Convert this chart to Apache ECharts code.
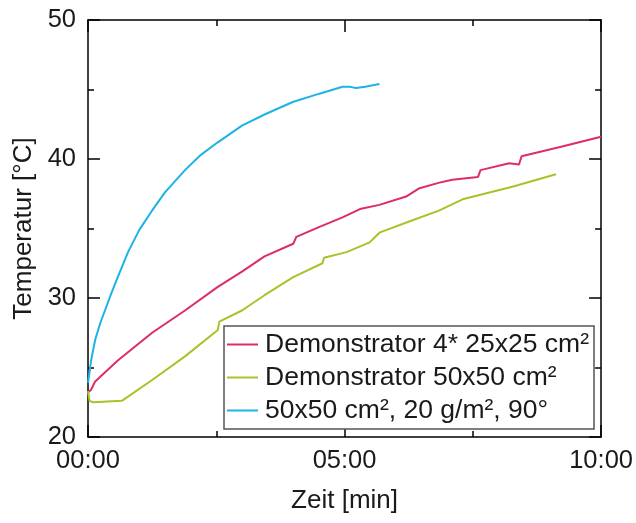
<!DOCTYPE html>
<html>
<head>
<meta charset="utf-8">
<script src="https://cdn.jsdelivr.net/npm/echarts@6/dist/echarts.min.js"></script>
<style>
  html, body { margin: 0; padding: 0; background: #fff; }
  #main { width: 636px; height: 523px; }
</style>
</head>
<body>
<div id="main"></div>
<script>
// series names
var seriesNames = ['Demonstrator 4* 25x25 cm²', 'Demonstrator 50x50 cm²', '50x50 cm², 20 g/m², 90°'];
var seriesColors = ['#dd2d62', '#a6c42a', '#1db3e4'];

// time in minutes, temperature in °C
var redTime = [0, 0.06, 0.14, 0.58, 1.25, 1.89, 2.53, 3.0, 3.44, 4.0, 4.06, 4.5, 4.96, 5.3, 5.68, 6.2, 6.46, 6.85, 7.1, 7.6, 7.65, 8.21, 8.4, 8.45, 9.24, 10.0];
var redTemp = [23.2, 23.4, 24.0, 25.5, 27.5, 29.1, 30.8, 31.9, 33.0, 33.9, 34.4, 35.1, 35.8, 36.4, 36.7, 37.3, 37.9, 38.3, 38.5, 38.7, 39.2, 39.7, 39.6, 40.2, 40.9, 41.6];

var greenTime = [0, 0.03, 0.1, 0.66, 1.25, 1.89, 2.53, 2.56, 3.0, 3.44, 4.0, 4.57, 4.6, 5.04, 5.49, 5.68, 6.26, 6.85, 7.3, 8.27, 9.12];
var greenTemp = [23.3, 22.6, 22.5, 22.6, 24.1, 25.8, 27.7, 28.3, 29.1, 30.2, 31.5, 32.5, 32.9, 33.3, 34.0, 34.7, 35.5, 36.3, 37.1, 38.0, 38.9];

var blueTime = [0, 0.02, 0.06, 0.14, 0.24, 0.33, 0.45, 0.58, 0.78, 1.0, 1.25, 1.5, 1.89, 2.2, 2.53, 3.0, 3.44, 3.99, 4.51, 4.96, 5.1, 5.23, 5.4, 5.68];
var blueTemp = [23.9, 24.4, 25.5, 27.0, 28.2, 29.1, 30.3, 31.5, 33.3, 34.9, 36.3, 37.6, 39.2, 40.3, 41.2, 42.4, 43.2, 44.1, 44.7, 45.2, 45.2, 45.1, 45.2, 45.4];

function zip(xs, ys) {
  var out = [];
  for (var i = 0; i < xs.length; i++) out.push([xs[i], ys[i]]);
  return out;
}

function timeLabel(v) {
  var m = Math.round(v);
  return (m < 10 ? '0' + m : '' + m) + ':00';
}

var font = 'Liberation Sans, Arial, sans-serif';
var textColor = '#1a1a1a';

function axisBase(extra) {
  var a = {
    axisLine: { show: true, onZero: false, lineStyle: { color: '#000', width: 1.5 } },
    axisTick: { show: true, inside: true, length: 12, lineStyle: { color: '#000', width: 1.5 } },
    minorTick: { show: true, splitNumber: 2, length: 6, lineStyle: { color: '#000', width: 1.5 } },
    splitLine: { show: false }
  };
  for (var k in extra) a[k] = extra[k];
  return a;
}

var myChart = echarts.init(document.getElementById('main'));

var option = {
  animation: false,
  backgroundColor: '#fff',
  grid: { left: 88, right: 34, top: 20, bottom: 86 },
  legend: {
    orient: 'vertical',
    left: 224,
    top: 326,
    icon: 'rect',
    itemWidth: 31,
    itemHeight: 2,
    itemGap: 6,
    padding: [5, 5, 5, 3],
    borderColor: '#555',
    borderWidth: 1.5,
    backgroundColor: '#fff',
    textStyle: { fontFamily: font, fontSize: 26.5, color: textColor, padding: [0, 0, 0, 2] },
    data: seriesNames
  },
  xAxis: [
    axisBase({
      type: 'value', min: 0, max: 10, interval: 5, position: 'bottom',
      name: 'Zeit [min]', nameLocation: 'middle', nameGap: 51,
      nameTextStyle: { fontFamily: font, fontSize: 26, color: textColor },
      axisLabel: { margin: 11, fontFamily: font, fontSize: 25.5, color: textColor, formatter: timeLabel }
    }),
    axisBase({
      type: 'value', min: 0, max: 10, interval: 5, position: 'top',
      axisLabel: { show: false }
    })
  ],
  yAxis: [
    axisBase({
      type: 'value', min: 20, max: 50, interval: 10, position: 'left',
      name: 'Temperatur [°C]', nameLocation: 'middle', nameGap: 48, nameRotate: 90,
      nameTextStyle: { fontFamily: font, fontSize: 26, color: textColor },
      axisLabel: { margin: 12, fontFamily: font, fontSize: 25.5, color: textColor }
    }),
    axisBase({
      type: 'value', min: 20, max: 50, interval: 10, position: 'right',
      axisLabel: { show: false }
    })
  ],
  series: [
    { name: seriesNames[0], type: 'line', symbol: 'none', data: zip(redTime, redTemp),
      lineStyle: { color: seriesColors[0], width: 2 }, itemStyle: { color: seriesColors[0] } },
    { name: seriesNames[1], type: 'line', symbol: 'none', data: zip(greenTime, greenTemp),
      lineStyle: { color: seriesColors[1], width: 2 }, itemStyle: { color: seriesColors[1] } },
    { name: seriesNames[2], type: 'line', symbol: 'none', data: zip(blueTime, blueTemp),
      lineStyle: { color: seriesColors[2], width: 2 }, itemStyle: { color: seriesColors[2] } }
  ]
};

myChart.setOption(option);
</script>
</body>
</html>
